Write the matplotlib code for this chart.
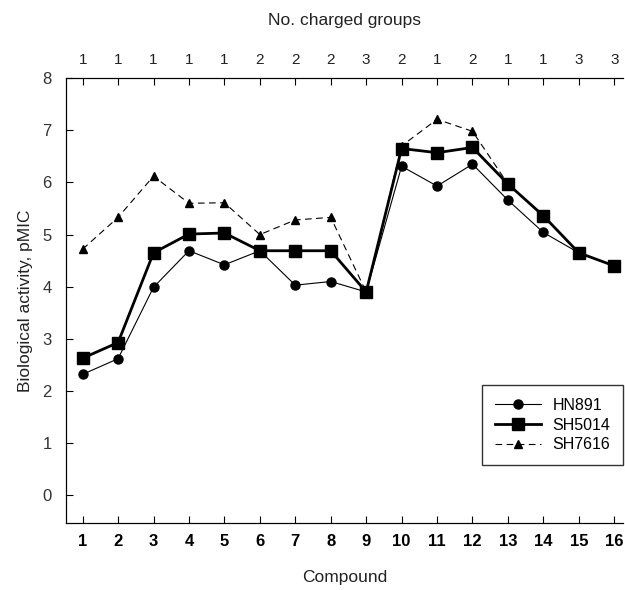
import matplotlib
matplotlib.use("Agg")
import matplotlib.pyplot as plt

plt.rcParams['font.family'] = ['Liberation Sans', 'DejaVu Sans']

compounds = list(range(1, 17))
charged_groups = [1, 1, 1, 1, 1, 2, 2, 2, 3, 2, 1, 2, 1, 1, 3, 3]

hn891 = [2.32, 2.62, 3.99, 4.69, 4.42, 4.69, 4.03, 4.10, 3.90, 6.31, 5.93, 6.35, 5.66, 5.04, 4.65, 4.40]
sh5014 = [2.63, 2.93, 4.65, 5.01, 5.03, 4.69, 4.69, 4.69, 3.90, 6.65, 6.57, 6.67, 5.97, 5.36, 4.65, 4.40]
sh7616 = [4.72, 5.33, 6.12, 5.60, 5.61, 5.00, 5.28, 5.33, 3.90, 6.70, 7.21, 6.98, 5.97, 5.36, 4.65, 4.40]

fig = plt.figure(figsize=(6.25, 5.9), dpi=100)
ax = fig.add_axes([0.105, 0.1136, 0.892, 0.754])

ax.plot(compounds, hn891, '-', color='black', lw=0.8, marker='o', ms=6.5, label='HN891')
ax.plot(compounds, sh5014, '-', color='black', lw=2.0, marker='s', ms=8.5, label='SH5014')
ax.plot(compounds, sh7616, '--', color='black', lw=0.8, marker='^', ms=6,
        dashes=(6, 4), label='SH7616')

ax.set_xlim(0.52, 16.25)
ax.set_ylim(-0.53, 8.0)
ax.set_xticks(compounds)
ax.set_xticklabels([str(c) for c in compounds], fontsize=12, fontweight='bold')
ax.set_yticks(range(0, 9))
ax.tick_params(axis='y', direction='in', labelsize=12, labelcolor='#333333', length=5, pad=10)
ax.tick_params(axis='x', direction='in', length=5, pad=8)
ax.spines['right'].set_visible(False)
ax.set_xlabel('Compound', fontsize=12.5, labelpad=15, color='#222222')
ax.set_ylabel('Biological activity, pMIC', fontsize=12.5, color='#222222', labelpad=7)

top = ax.twiny()
top.set_xlim(ax.get_xlim())
top.set_xticks(compounds)
top.set_xticklabels([str(g) for g in charged_groups], fontsize=11, color='#222222')
top.tick_params(axis='x', direction='in', length=5, pad=8)
top.spines['right'].set_visible(False)
top.set_xlabel('No. charged groups', fontsize=12.5, labelpad=20, color='#222222')

leg = ax.legend(loc='lower right', bbox_to_anchor=(1.0, 0.13), borderaxespad=0,
                fontsize=11.5, frameon=True, fancybox=False, edgecolor='black',
                handlelength=2.9, handletextpad=0.7, borderpad=0.8, labelspacing=0.3)
leg.get_frame().set_linewidth(1.0)

fig.savefig('out.png', dpi=100)
